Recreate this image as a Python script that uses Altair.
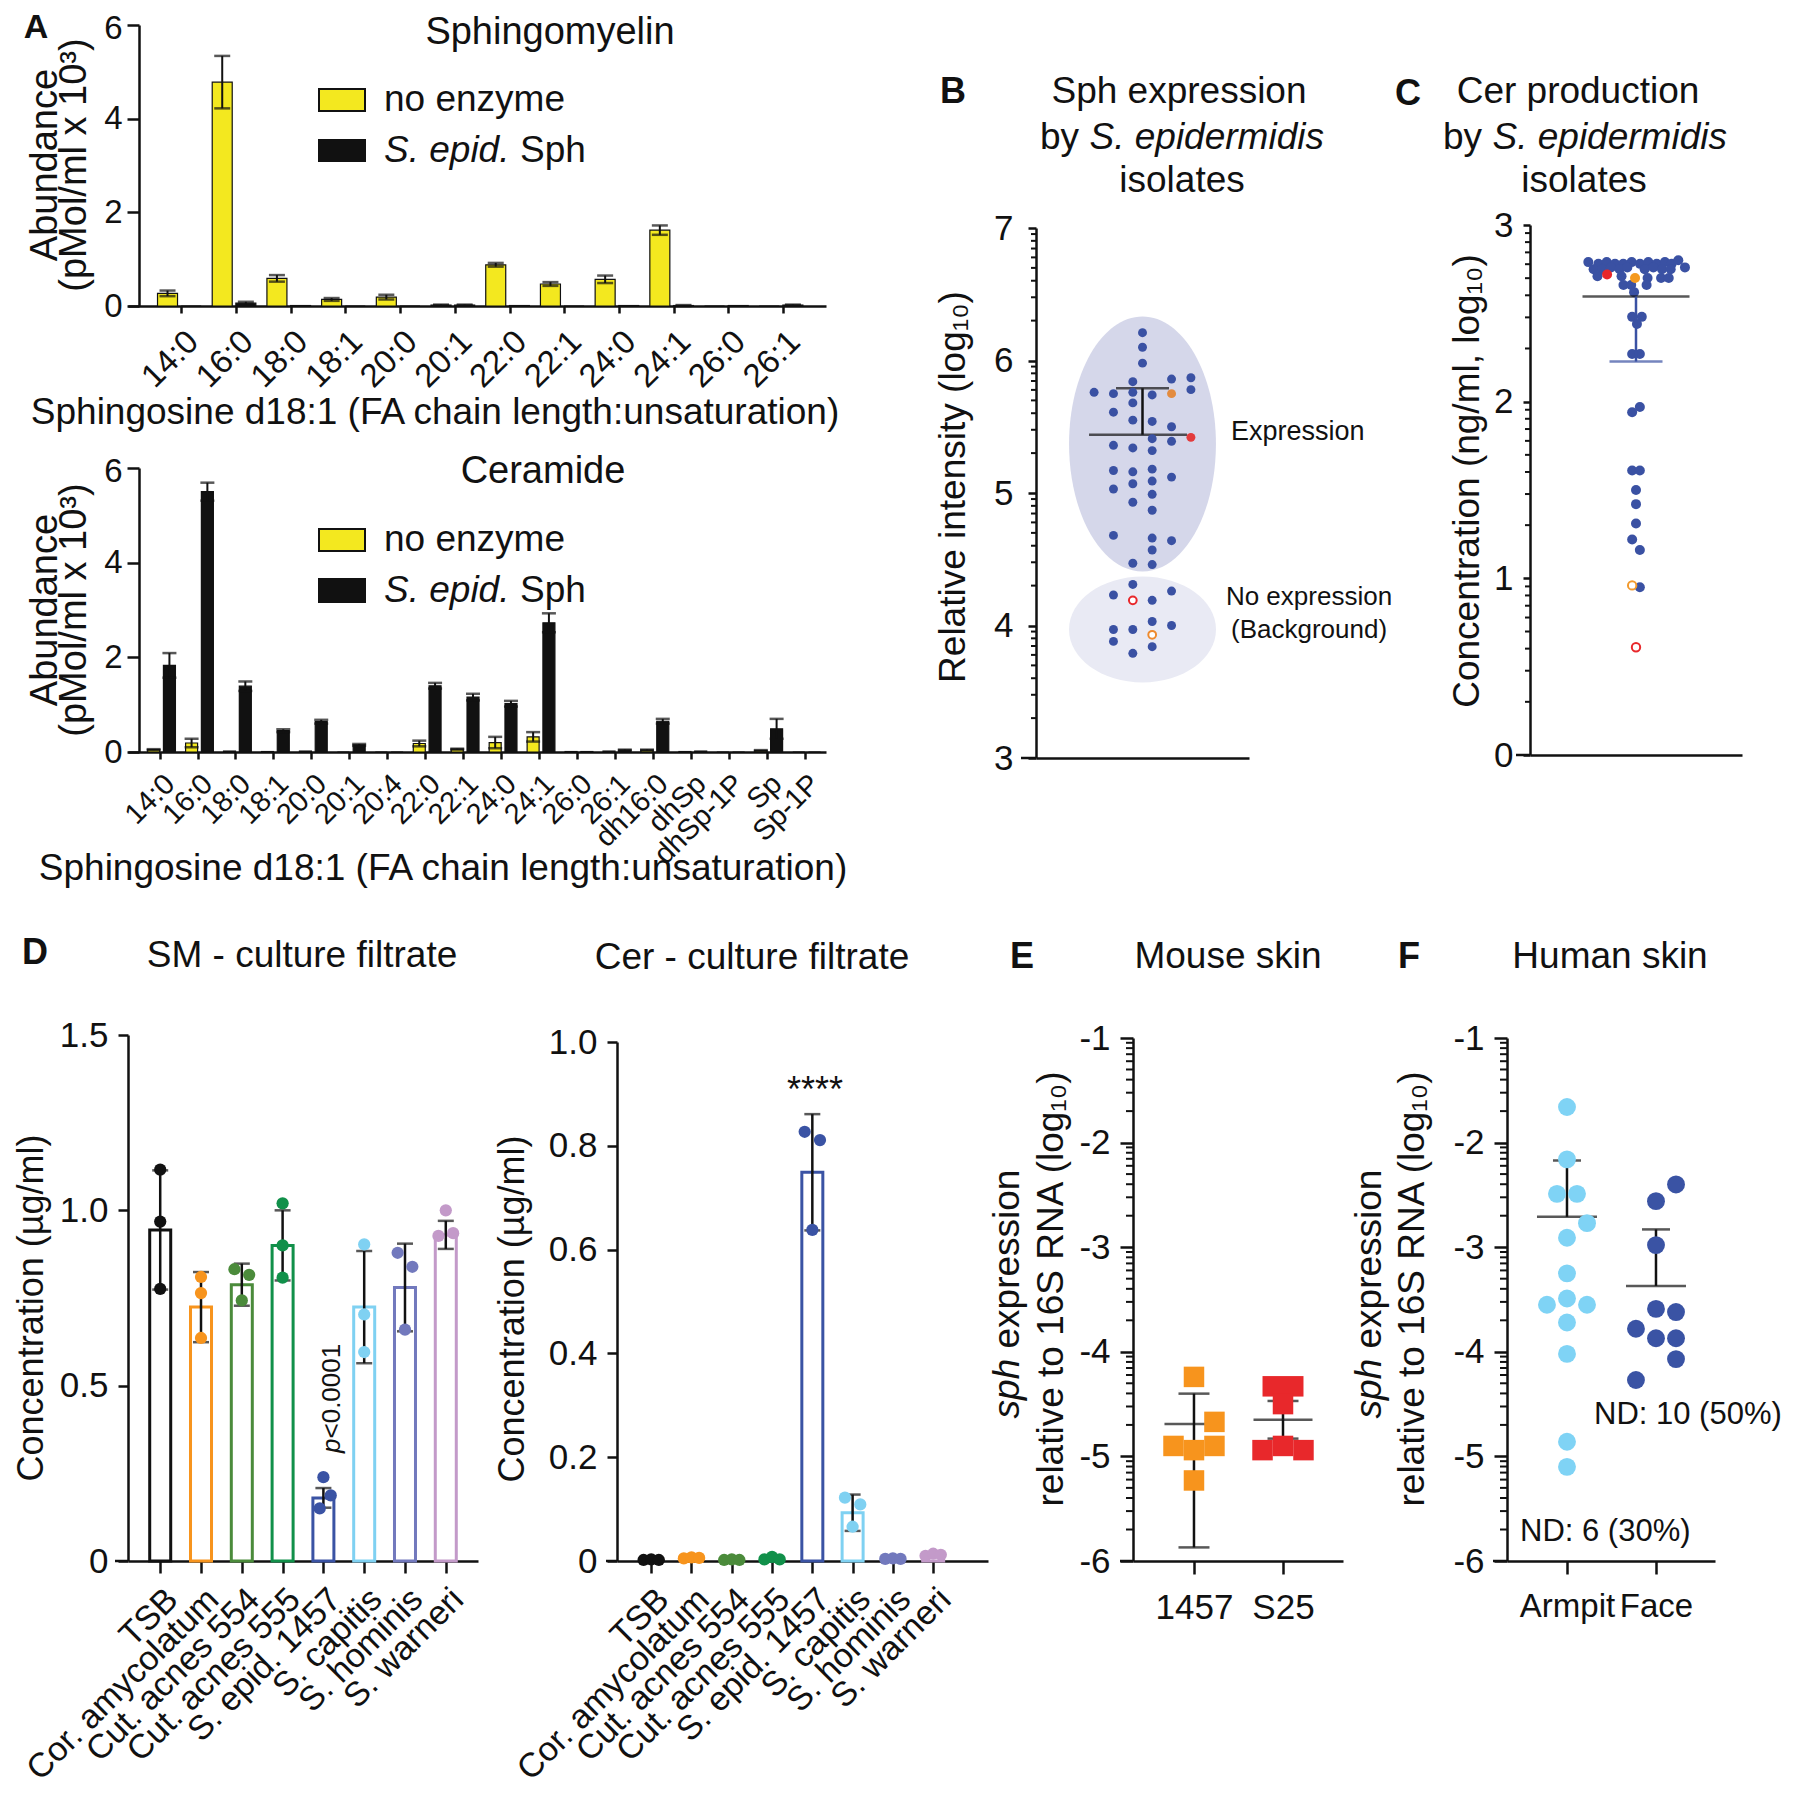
import altair as alt
import pandas as pd
import numpy as np

FONT = "Liberation Sans"
BLACK = "#111111"
YELLOW = "#f3e81f"
BLUE = "#3a51a3"
ORANGE = "#f7941d"
RED = "#e8282b"

# ---------------- Panel A data ----------------
sm_cats = ["14:0", "16:0", "18:0", "18:1", "20:0", "20:1", "22:0", "22:1", "24:0", "24:1", "26:0", "26:1"]
sm_none = [0.27, 4.78, 0.59, 0.14, 0.19, 0.02, 0.88, 0.47, 0.57, 1.62, 0.0, 0.0]
sm_none_err = [0.06, 0.56, 0.07, 0.03, 0.05, 0.01, 0.04, 0.04, 0.08, 0.10, 0.0, 0.0]
sm_sph = [0.0, 0.06, 0.01, 0.0, 0.0, 0.02, 0.01, 0.0, 0.01, 0.01, 0.01, 0.02]
sm_sph_err = [0.0, 0.03, 0.0, 0.0, 0.0, 0.01, 0.0, 0.0, 0.0, 0.01, 0.0, 0.01]

cer_cats = ["14:0", "16:0", "18:0", "18:1", "20:0", "20:1", "20:4", "22:0", "22:1", "24:0", "24:1",
            "26:0", "26:1", "dh16:0", "dhSp", "dhSp-1P", "Sp", "Sp-1P"]
cer_none = [0.05, 0.19, 0.02, 0.01, 0.02, 0.0, 0.0, 0.18, 0.06, 0.20, 0.32, 0.01, 0.02, 0.04, 0.01, 0.0, 0.03, 0.0]
cer_none_err = [0.01, 0.09, 0.0, 0.0, 0.0, 0.0, 0.0, 0.06, 0.01, 0.12, 0.10, 0.0, 0.0, 0.01, 0.0, 0.0, 0.01, 0.0]
cer_sph = [1.83, 5.50, 1.39, 0.45, 0.64, 0.15, 0.0, 1.40, 1.16, 1.02, 2.73, 0.01, 0.04, 0.65, 0.02, 0.0, 0.49, 0.0]
cer_sph_err = [0.26, 0.19, 0.10, 0.03, 0.04, 0.02, 0.0, 0.06, 0.07, 0.06, 0.20, 0.0, 0.01, 0.05, 0.0, 0.0, 0.21, 0.0]

# ---------------- Panel B data ----------------
b_col = [0, 0, 0, -1, 3, 5, -5, -3, -1, 1, 3, 5, -3, -1, -1, 1, 3, 1, 3, 5, -3, -1, 1, -3, -1, 1, 3,
         -3, -1, 1, 1, -1, 1, -3, 1, 3, 1, -1, 1, -1, -3, -1, 1, 3, 1, 3, -3, -1, 1, -3, 1, -1]
b_val = [6.21, 6.10, 5.98, 5.84, 5.86, 5.87, 5.76, 5.75, 5.76, 5.74, 5.75, 5.78, 5.61, 5.68, 5.55, 5.54,
         5.50, 5.41, 5.39, 5.42, 5.36, 5.34, 5.32, 5.17, 5.16, 5.18, 5.12, 5.03, 5.07, 5.09, 4.99, 4.93,
         4.87, 4.68, 4.66, 4.64, 4.57, 4.47, 4.46, 4.31, 4.23, 4.19, 4.19, 4.26, 4.03, 4.00, 3.97, 3.97,
         3.93, 3.88, 3.84, 3.79]
b_kind = ["b", "b", "b", "b", "b", "b", "b", "b", "b", "b", "o", "b", "b", "b", "b", "b", "b", "b", "b", "r",
          "b", "b", "b", "b", "b", "b", "b", "b", "b", "b", "b", "b", "b", "b", "b", "b", "b", "b", "b", "b",
          "b", "ro", "b", "b", "b", "b", "b", "b", "oo", "b", "b", "b"]
b_mean = 5.44
b_sd_hi = 5.79
b_ell_y = [5.37, 3.97]

# ---------------- Panel C data ----------------
c_col = [-4.95, -3.9, -3.04, -2.18, -1.32, -0.45, 0.42, 1.28, 2.15, 3.0, 3.7, 4.39,
         -4.4, -3.5, -2.6, -1.7, -0.9, 0.9, 1.8, 2.7, 3.6, 5.08,
         -4.0, -3.0, -1.5, -0.1, 1.2, 2.6, 3.4,
         -1.3, -0.5, 1.1, -0.2, -0.4, 0.6, 0.1, -0.4, 0.4, 0.4, -0.4, -0.4, 0.4,
         0.0, 0.0, 0.0, -0.4, 0.4, 0.4, -0.4, 0.0]
c_val = [2.79, 2.78, 2.79, 2.78, 2.78, 2.79, 2.78, 2.79, 2.78, 2.79, 2.78, 2.80,
         2.75, 2.75, 2.76, 2.75, 2.76, 2.75, 2.76, 2.75, 2.75, 2.76,
         2.71, 2.72, 2.71, 2.70, 2.70, 2.70, 2.70,
         2.66, 2.66, 2.66, 2.62, 2.48, 2.48, 2.44, 2.27, 2.27, 1.97, 1.94, 1.61, 1.61,
         1.50, 1.42, 1.31, 1.22, 1.16, 0.95, 0.96, 0.61]
c_kind = ["b"] * 23 + ["r", "b", "o", "b", "b", "b"] + ["b"] * 18 + ["b", "oo", "ro"]
c_mean = 2.595
c_sd_lo = 2.227

# ---------------- Panel D data ----------------
d_cats = ["TSB", "Cor. amycolatum", "Cut. acnes 554", "Cut. acnes 555", "S. epid. 1457",
          "S. capitis", "S. hominis", "S. warneri"]
d_colors = ["#111111", "#f7941d", "#4b8b3b", "#11904a", "#3a53a4", "#7fd1f2", "#7279bd", "#c39ac9"]
sm_mean = [0.944, 0.724, 0.788, 0.900, 0.180, 0.724, 0.780, 0.930]
sm_sd = [0.170, 0.100, 0.060, 0.100, 0.028, 0.160, 0.125, 0.040]
sm_pts = [[1.116, 0.968, 0.776], [0.810, 0.764, 0.636], [0.832, 0.816, 0.743], [1.020, 0.900, 0.808],
          [0.239, 0.187, 0.150], [0.903, 0.703, 0.596], [0.879, 0.839, 0.660], [1.000, 0.935, 0.927]]
sm_jit = [[0, 0, 0], [0, 0, 0], [-1, 1, 0], [0, 0, 0], [0, 1, -0.5], [0, 0, 0], [-1, 1, 0], [0, 1, -1]]
cer_mean = [0.002, 0.006, 0.002, 0.005, 0.749, 0.093, 0.004, 0.012]
cer_sd = [0.0, 0.0, 0.0, 0.0, 0.112, 0.035, 0.0, 0.0]
cer_pts = [[0.002, 0.003, 0.002], [0.005, 0.007, 0.006], [0.002, 0.003, 0.002], [0.003, 0.008, 0.003],
           [0.827, 0.811, 0.638], [0.122, 0.109, 0.066], [0.004, 0.005, 0.004], [0.010, 0.014, 0.012]]
cer_jit = [[-1, 0, 1], [-1, 0, 1], [-1, 0, 1], [-1, 0, 1], [-1, 1, 0], [-1, 1, 0], [-1, 0, 1], [-1, 0, 1]]

# ---------------- Panel E data ----------------
e_groups = ["1457", "S25"]
e_vals = [[-4.24, -4.67, -4.90, -4.94, -4.90, -5.23], [-4.33, -4.33, -4.50, -4.94, -4.90, -4.94]]
e_jit = [[0, 2, -2, 0, 2, 0], [-1, 1, 0, -2, 0, 2]]
e_mean = [-4.69, -4.65]
e_hi = [-4.40, -4.47]
e_lo = [-5.87, -4.83]

# ---------------- Panel F data ----------------
f_groups = ["Armpit", "Face"]
f_vals = [[-1.66, -2.16, -2.49, -2.49, -2.77, -2.91, -3.25, -3.49, -3.55, -3.55, -3.72, -4.02, -4.86, -5.10],
          [-2.40, -2.56, -2.98, -3.59, -3.62, -3.78, -3.87, -3.87, -4.07, -4.27]]
f_jit = [[0, 0, -1, 1, 2, 0, 0, 0, -2, 2, 0, 0, 0, 0], [2, 0, 0, 0, 2, -2, 0, 2, 2, -2]]
f_mean = [-2.71, -3.37]
f_hi = [-2.17, -2.83]

one = pd.DataFrame({"a": [0]})


def ax(**kw):
    d = dict(title=None, grid=False, domainWidth=2.5, tickWidth=2.5, domainColor=BLACK,
             tickColor=BLACK, labelColor=BLACK, labelFont=FONT, labelOverlap=False,
             labelFlush=False, labelLimit=1000)
    d.update(kw)
    return alt.Axis(**d)


def txt(t, x, y, size=37, angle=None, align="center", baseline="middle", italic=False, bold=False):
    kw = dict(text=t, fontSize=size, align=align, baseline=baseline, font=FONT,
              fontStyle="italic" if italic else "normal",
              fontWeight="bold" if bold else "normal", color=BLACK)
    if angle is not None:
        kw["angle"] = angle
    return alt.Chart(one).mark_text(**kw).encode(x=alt.value(x), y=alt.value(y))


def anchor(x1, y1, x2, y2):
    return alt.Chart(one).mark_rule(color="white", opacity=0, strokeWidth=0.01).encode(
        x=alt.value(x1), y=alt.value(y1), x2=alt.value(x2), y2=alt.value(y2))


def hrule(x1, x2, y, w=2.5):
    return alt.Chart(one).mark_rule(color=BLACK, strokeWidth=w).encode(
        x=alt.value(x1), x2=alt.value(x2), y=alt.value(y))


def rect(x1, x2, y1, y2, fill):
    return alt.Chart(one).mark_rect(fill=fill, stroke=BLACK, strokeWidth=2).encode(
        x=alt.value(x1), x2=alt.value(x2), y=alt.value(y1), y2=alt.value(y2))


def minor(lo, hi, ys, yax, length):
    vals = [m + np.log10(k) for m in range(lo, hi) for k in range(2, 10)]
    return alt.Chart(pd.DataFrame({"mv": vals})).mark_rule(color=BLACK, strokeWidth=2).encode(
        y=alt.Y("mv:Q", scale=ys, axis=yax), x=alt.value(0), x2=alt.value(-length))


def lipid(cats, nv, ne, sv, se, xlo, xhi, offy, offb, barw, capw, lab_size, lab_pad):
    rows = []
    for i in range(len(cats)):
        rows.append({"i": i, "s": "no enzyme", "v": nv[i], "e": ne[i]})
        rows.append({"i": i, "s": "S. epid. Sph", "v": sv[i], "e": se[i]})
    df = pd.DataFrame(rows)
    xs = alt.Scale(domain=[xlo, xhi], nice=False, zero=False)
    ys = alt.Scale(domain=[0, 6], nice=False)
    expr = "[" + ",".join("'" + c + "'" for c in cats) + "][datum.value]"
    xax = ax(values=list(range(len(cats))), labelExpr=expr, labelAngle=315, labelAlign="right",
             labelBaseline="top", labelFontSize=lab_size, tickSize=7, labelPadding=lab_pad)
    yax = ax(values=[0, 2, 4, 6], format="d", labelFontSize=33, tickSize=12, labelPadding=5, offset=-11,
             labelOffset={"condition": {"test": "datum.value == 6", "value": 3}, "value": 0})
    X = alt.X("xp:Q", scale=xs, axis=xax)
    base = alt.Chart(df).transform_calculate(
        xp="datum.i + (datum.s == 'no enzyme' ? %f : %f)" % (offy, offb),
        lo="max(0, datum.v - datum.e)", hi="datum.v + datum.e")
    bars = base.mark_bar(size=barw, orient="vertical", stroke=BLACK, strokeWidth=1.2).encode(
        x=X, y=alt.Y("v:Q", scale=ys, axis=yax),
        color=alt.Color("s:N", scale=alt.Scale(domain=["no enzyme", "S. epid. Sph"], range=[YELLOW, BLACK]),
                        legend=None))
    eb = base.transform_filter("datum.e > 0")
    err = eb.mark_rule(color=BLACK, strokeWidth=2).encode(
        x=X, y=alt.Y("lo:Q", scale=ys, axis=yax), y2="hi:Q")
    caph = eb.mark_tick(orient="horizontal", size=capw, thickness=2.5, color=BLACK).encode(
        x=X, y=alt.Y("hi:Q", scale=ys, axis=yax))
    capl = eb.mark_tick(orient="horizontal", size=capw, thickness=2.5, color=BLACK).encode(
        x=X, y=alt.Y("lo:Q", scale=ys, axis=yax))
    return [bars, err, caph, capl]


# ---------------- Panel A1 ----------------
A1 = alt.layer(
    *lipid(sm_cats, sm_none, sm_none_err, sm_sph, sm_sph_err, -0.883, 11.694, -0.252, 0.18, 20, 16, 33, 12),
    txt("A", -92, 3, 34, bold=True),
    txt("Abundance", -82, 140, 38, angle=270),
    txt("(pMol/ml x 10³)", -53, 140, 38, angle=270),
    txt("Sphingomyelin", 422, 8, 38),
    rect(191, 237, 64, 86, YELLOW), rect(191, 237, 115, 136, BLACK),
    txt("no enzyme", 256, 75, 37, align="left"),
    txt("S. epid.", 256, 126, 37, align="left", italic=True),
    txt("Sph", 392, 126, 37, align="left"),
    txt("Sphingosine d18:1 (FA chain length:unsaturation)", 307, 388, 37),
    anchor(-120, -17, 772, 415),
).properties(width=698, height=281)

# ---------------- Panel A2 ----------------
A2 = alt.layer(
    *lipid(cer_cats, cer_none, cer_none_err, cer_sph, cer_sph_err, -0.70, 17.43, -0.156, 0.26, 12, 14, 29, 10),
    txt("Abundance", -82, 142, 38, angle=270),
    txt("(pMol/ml x 10³)", -53, 142, 38, angle=270),
    txt("Ceramide", 415, 4, 38),
    rect(191, 237, 61, 83, YELLOW), rect(191, 237, 111, 134, BLACK),
    txt("no enzyme", 256, 72, 37, align="left"),
    txt("S. epid.", 256, 123, 37, align="left", italic=True),
    txt("Sph", 392, 123, 37, align="left"),
    txt("Sphingosine d18:1 (FA chain length:unsaturation)", 315, 401, 37),
    anchor(-120, -28, 772, 444),
).properties(width=698, height=284)

# ---------------- Panel B ----------------
xs_b = alt.Scale(domain=[-11, 11], nice=False, zero=False)
ys_b = alt.Scale(domain=[3, 7], range=[733, 203], nice=False, zero=False)
xa_b = ax(ticks=False, labels=False)
ya_b = ax(values=[3, 4, 5, 6, 7], format="d", labelFontSize=35, tickSize=8, labelPadding=15)
dfb = pd.DataFrame({"k": b_col, "v": b_val, "kb": b_kind})
ELL1 = "M0,-1A0.576,1,0,1,1,0,1A0.576,1,0,1,1,0,-1Z"
ELL2 = "M-1,0A1,0.72,0,1,1,1,0A1,0.72,0,1,1,-1,0Z"


def bx(v):
    return alt.XDatum(v, scale=xs_b, axis=xa_b)


def by(v):
    return alt.YDatum(v, scale=ys_b, axis=ya_b)


XB = alt.X("k:Q", scale=xs_b, axis=xa_b)
YB = alt.Y("v:Q", scale=ys_b, axis=ya_b)

B = alt.layer(
    alt.Chart(one).mark_point(shape=ELL1, size=255 ** 2, filled=True, color="#d5d7ea", opacity=1,
                              strokeWidth=0).encode(x=bx(0), y=by(b_ell_y[0])),
    alt.Chart(one).mark_point(shape=ELL2, size=147 ** 2, filled=True, color="#e9eaf4", opacity=1,
                              strokeWidth=0).encode(x=bx(0), y=by(b_ell_y[1])),
    minor(3, 7, ys_b, ya_b, 5),
    hrule(-15, 0, 733),
    alt.Chart(one).mark_tick(orient="horizontal", size=98, thickness=2.5, color=BLACK).encode(
        x=bx(-0.46), y=by(b_mean)),
    alt.Chart(one).mark_rule(color=BLACK, strokeWidth=2.5).encode(
        x=bx(0), y=by(b_mean), y2=alt.Y2Datum(b_sd_hi)),
    alt.Chart(one).mark_tick(orient="horizontal", size=53, thickness=2.5, color=BLACK).encode(
        x=bx(0), y=by(b_sd_hi)),
    alt.Chart(dfb).transform_filter("datum.kb == 'b'").mark_circle(size=80, opacity=1, color=BLUE).encode(
        x=XB, y=YB),
    alt.Chart(dfb).transform_filter("datum.kb == 'o' || datum.kb == 'r'").mark_circle(size=80, opacity=1).encode(
        x=XB, y=YB,
        color=alt.Color("kb:N", scale=alt.Scale(domain=["o", "r"], range=["#e38b3f", "#e33b3c"]), legend=None)),
    alt.Chart(dfb).transform_filter("datum.kb == 'ro' || datum.kb == 'oo'").mark_point(
        shape="circle", filled=True, fill="white", size=60, strokeWidth=2, opacity=1).encode(
        x=XB, y=YB,
        stroke=alt.Stroke("kb:N", scale=alt.Scale(domain=["ro", "oo"], range=[RED, "#ee8a2e"]), legend=None)),
    txt("B", -83, 67, 36, bold=True),
    txt("Sph expression", 143, 67, 37),
    txt("by", 4, 113, 37, align="left"),
    txt("S. epidermidis", 53.5, 113, 37, align="left", italic=True),
    txt("isolates", 146, 156, 37),
    txt("Relative intensity (log₁₀)", -82, 462, 37, angle=270),
    txt("Expression", 195, 407, 27, align="left"),
    txt("No expression", 273, 572, 26),
    txt("(Background)", 273, 605, 26),
    anchor(-136, 0, 358, 887),
).properties(width=213, height=733)

# ---------------- Panel C ----------------
xs_c = alt.Scale(domain=[-11, 11], nice=False, zero=False)
ys_c = alt.Scale(domain=[0, 3], range=[730, 200], nice=False, zero=False)
xa_c = ax(ticks=False, labels=False)
ya_c = ax(values=[0, 1, 2, 3], format="d", labelFontSize=35, tickSize=7, labelPadding=10)
dfc = pd.DataFrame({"k": c_col, "v": c_val, "kc": c_kind})


def cx(v):
    return alt.XDatum(v, scale=xs_c, axis=xa_c)


def cy(v):
    return alt.YDatum(v, scale=ys_c, axis=ya_c)


XC = alt.X("k:Q", scale=xs_c, axis=xa_c)
YC = alt.Y("v:Q", scale=ys_c, axis=ya_c)

C = alt.layer(
    alt.Chart(dfc).transform_filter("datum.kc == 'b'").mark_circle(size=100, opacity=1, color=BLUE).encode(
        x=XC, y=YC),
    alt.Chart(dfc).transform_filter("datum.kc == 'o' || datum.kc == 'r'").mark_circle(size=100, opacity=1).encode(
        x=XC, y=YC,
        color=alt.Color("kc:N", scale=alt.Scale(domain=["o", "r"], range=["#f59a1f", "#e8262a"]), legend=None)),
    alt.Chart(dfc).transform_filter("datum.kc == 'ro' || datum.kc == 'oo'").mark_point(
        shape="circle", filled=True, fill="white", size=70, strokeWidth=2, opacity=1).encode(
        x=XC, y=YC,
        stroke=alt.Stroke("kc:N", scale=alt.Scale(domain=["ro", "oo"], range=[RED, "#f29a2e"]), legend=None)),
    minor(0, 3, ys_c, ya_c, 5),
    hrule(-14, 0, 730),
    alt.Chart(one).mark_tick(orient="horizontal", size=107, thickness=2.5, color=BLACK).encode(
        x=cx(0), y=cy(c_mean)),
    alt.Chart(one).mark_rule(color=BLUE, strokeWidth=2.5).encode(
        x=cx(0), y=cy(c_sd_lo), y2=alt.Y2Datum(c_mean)),
    alt.Chart(one).mark_tick(orient="horizontal", size=53, thickness=2.5, color=BLUE).encode(
        x=cx(0), y=cy(c_sd_lo)),
    txt("C", -122, 69, 36, bold=True),
    txt("Cer production", 48, 67, 37),
    txt("by", -87, 113, 37, align="left"),
    txt("S. epidermidis", -37.5, 113, 37, align="left", italic=True),
    txt("isolates", 54, 156, 37),
    txt("Concentration (ng/ml, log₁₀)", -62, 456, 37, angle=270),
    anchor(-136, 0, 250, 887),
).properties(width=212, height=730)


# ---------------- Panel D ----------------
def dpanel(means, sds, pts, jits, ydom, yvals, yrange, xlo, xhi, jstep):
    dfm = pd.DataFrame({"i": list(range(len(d_cats))), "c": d_cats, "m": means, "sd": sds})
    rows = []
    for i in range(len(d_cats)):
        for v, j in zip(pts[i], jits[i]):
            rows.append({"i": i, "c": d_cats[i], "v": v, "j": j})
    dfp = pd.DataFrame(rows)
    xs = alt.Scale(domain=[xlo, xhi], nice=False, zero=False)
    if yrange is None:
        ys = alt.Scale(domain=ydom, nice=False, zero=False)
    else:
        ys = alt.Scale(domain=ydom, range=yrange, nice=False, zero=False)
    expr = "[" + ",".join("'" + c + "'" for c in d_cats) + "][datum.value]"
    xax = ax(values=list(range(len(d_cats))), labelExpr=expr, labelAngle=315, labelAlign="right",
             labelBaseline="top", labelFontSize=34, tickSize=12, labelPadding=9)
    yax = ax(values=yvals, labelExpr="datum.value == 0 ? '0' : format(datum.value, '.1f')",
             labelFontSize=35, tickSize=10, labelPadding=10)
    cs = alt.Scale(domain=d_cats, range=d_colors)
    X = alt.X("i:Q", scale=xs, axis=xax)
    bars = alt.Chart(dfm).mark_bar(size=21, orient="vertical", fill="white", strokeWidth=3).encode(
        x=X, y=alt.Y("m:Q", scale=ys, axis=yax),
        stroke=alt.Stroke("c:N", scale=cs, legend=None))
    eb = alt.Chart(dfm).transform_filter("datum.sd > 0").transform_calculate(
        lo="datum.m - datum.sd", hi="datum.m + datum.sd")
    err = eb.mark_rule(color=BLACK, strokeWidth=2.5).encode(
        x=X, y=alt.Y("lo:Q", scale=ys, axis=yax), y2="hi:Q")
    caph = eb.mark_tick(orient="horizontal", size=16, thickness=2.5, color=BLACK).encode(
        x=X, y=alt.Y("hi:Q", scale=ys, axis=yax))
    capl = eb.mark_tick(orient="horizontal", size=16, thickness=2.5, color=BLACK).encode(
        x=X, y=alt.Y("lo:Q", scale=ys, axis=yax))
    dots = alt.Chart(dfp).transform_calculate(xp="datum.i + datum.j * %f" % jstep).mark_circle(
        size=150, opacity=1).encode(
        x=alt.X("xp:Q", scale=xs, axis=xax), y=alt.Y("v:Q", scale=ys, axis=yax),
        color=alt.Color("c:N", scale=cs, legend=None))
    return [bars, err, caph, capl, dots]


D1 = alt.layer(
    *dpanel(sm_mean, sm_sd, sm_pts, sm_jit, [0, 1.5], [0, 0.5, 1.0, 1.5], None, -0.667, 7.667, 0.18),
    hrule(-13, 0, 526),
    txt("D", -93, -82, 36, bold=True),
    txt("SM - culture filtrate", 174, -79, 37),
    txt("Concentration (µg/ml)", -96, 273, 36, angle=270),
    txt("p", 204, 418, 26, angle=270, align="left", italic=True),
    txt("<0.0001", 204, 403.5, 26, angle=270, align="left"),
    anchor(-120, -123, 352, 745),
).properties(width=350, height=526)

D2 = alt.layer(
    *dpanel(cer_mean, cer_sd, cer_pts, cer_jit, [0, 1.0], [0, 0.2, 0.4, 0.6, 0.8, 1.0], [526, 7],
            -0.725, 8.237, 0.19),
    hrule(-11, 0, 526),
    txt("Cer - culture filtrate", 135, -77, 37),
    txt("Concentration (µg/ml)", -104, 274, 36, angle=270),
    txt("****", 198, 56, 36),
    anchor(-137, -123, 372, 700),
).properties(width=371, height=526)


# ---------------- Panels E / F ----------------
def spanel(groups, vals, jits, means, his, los, colors, fieldname, mark, msize, jstep, xlo, xhi,
           mean_w, cap_w, lab_size):
    rows = []
    for gi, g in enumerate(groups):
        for v, j in zip(vals[gi], jits[gi]):
            rows.append({"g": gi + 1, fieldname: g, "v": v, "j": j})
    dfp = pd.DataFrame(rows)
    st = {"g": [1, 2], "m": means, "hi": his}
    if los is not None:
        st["lo"] = los
    dfs = pd.DataFrame(st)
    xs = alt.Scale(domain=[xlo, xhi], nice=False, zero=False)
    ys = alt.Scale(domain=[-6, -1], range=[526, 3], nice=False, zero=False)
    expr = "['', " + ",".join("'" + g + "'" for g in groups) + "][datum.value]"
    xax = ax(values=[1, 2], labelExpr=expr, labelFontSize=lab_size, tickSize=13, labelPadding=16)
    yax = ax(values=[-6, -5, -4, -3, -2, -1], labelExpr="'-' + abs(datum.value)", labelFontSize=35,
             tickSize=13, labelPadding=10)
    X = alt.X("g:Q", scale=xs, axis=xax)
    layers = [
        alt.Chart(dfs).mark_tick(orient="horizontal", size=mean_w, thickness=2.5, color=BLACK).encode(
            x=X, y=alt.Y("m:Q", scale=ys, axis=yax)),
        alt.Chart(dfs).mark_rule(color=BLACK, strokeWidth=2.5).encode(
            x=X, y=alt.Y("m:Q", scale=ys, axis=yax), y2="hi:Q"),
        alt.Chart(dfs).mark_tick(orient="horizontal", size=cap_w, thickness=2.5, color=BLACK).encode(
            x=X, y=alt.Y("hi:Q", scale=ys, axis=yax)),
    ]
    if los is not None:
        layers += [
            alt.Chart(dfs).mark_rule(color=BLACK, strokeWidth=2.5).encode(
                x=X, y=alt.Y("lo:Q", scale=ys, axis=yax), y2="m:Q"),
            alt.Chart(dfs).mark_tick(orient="horizontal", size=cap_w, thickness=2.5, color=BLACK).encode(
                x=X, y=alt.Y("lo:Q", scale=ys, axis=yax)),
        ]
    pm = alt.Chart(dfp).transform_calculate(xp="datum.g + datum.j * %f" % jstep)
    if mark == "square":
        pm = pm.mark_square(size=msize, opacity=1)
    else:
        pm = pm.mark_circle(size=msize, opacity=1)
    layers.append(pm.encode(
        x=alt.X("xp:Q", scale=xs, axis=xax), y=alt.Y("v:Q", scale=ys, axis=yax),
        color=alt.Color(fieldname + ":N", scale=alt.Scale(domain=groups, range=colors), legend=None)))
    layers.append(minor(-6, -1, ys, yax, 7))
    return layers


E = alt.layer(
    *spanel(e_groups, e_vals, e_jit, e_mean, e_hi, e_lo, [ORANGE, RED], "ge", "square", 420, 0.115,
            0.315, 2.674, 59, 31, 35),
    hrule(-13, 0, 526),
    txt("E", -111, -78, 36, bold=True),
    txt("Mouse skin", 95, -78, 37),
    txt("sph", -125, 383.4, 37, angle=270, align="left", italic=True),
    txt("expression", -125, 313.5, 37, angle=270, align="left"),
    txt("relative to 16S RNA (log₁₀)", -81, 254, 37, angle=270),
    anchor(-144, -123, 212, 600),
).properties(width=210, height=526)

F = alt.layer(
    *spanel(f_groups, f_vals, f_jit, f_mean, f_hi, None, ["#7fd3f5", "#3a53a4"], "gf", "circle", 320,
            0.1125, 0.326, 2.663, 60, 28, 33),
    hrule(-14, 0, 526),
    txt("F", -98, -78, 36, bold=True),
    txt("Human skin", 103, -78, 37),
    txt("sph", -137, 383.4, 37, angle=270, align="left", italic=True),
    txt("expression", -137, 313.5, 37, angle=270, align="left"),
    txt("relative to 16S RNA (log₁₀)", -94, 254, 37, angle=270),
    txt("ND: 10 (50%)", 87, 380, 31, align="left"),
    txt("ND: 6 (30%)", 13, 497, 31, align="left"),
    anchor(-162, -123, 277, 600),
).properties(width=208, height=526)

IND = dict(color="independent", stroke="independent")
colA = alt.vconcat(A1, A2, spacing=0).resolve_scale(**IND)
row1 = alt.hconcat(colA, B, C, spacing=0).resolve_scale(**IND)
row2 = alt.hconcat(D1, D2, E, F, spacing=0).resolve_scale(**IND)
chart = (alt.vconcat(row1, row2, spacing=0).resolve_scale(**IND)
         .properties(padding=0)
         .configure(font=FONT)
         .configure_view(stroke=None, strokeWidth=0))

chart.save("out.html", embed_options={"renderer": "svg", "actions": False})
